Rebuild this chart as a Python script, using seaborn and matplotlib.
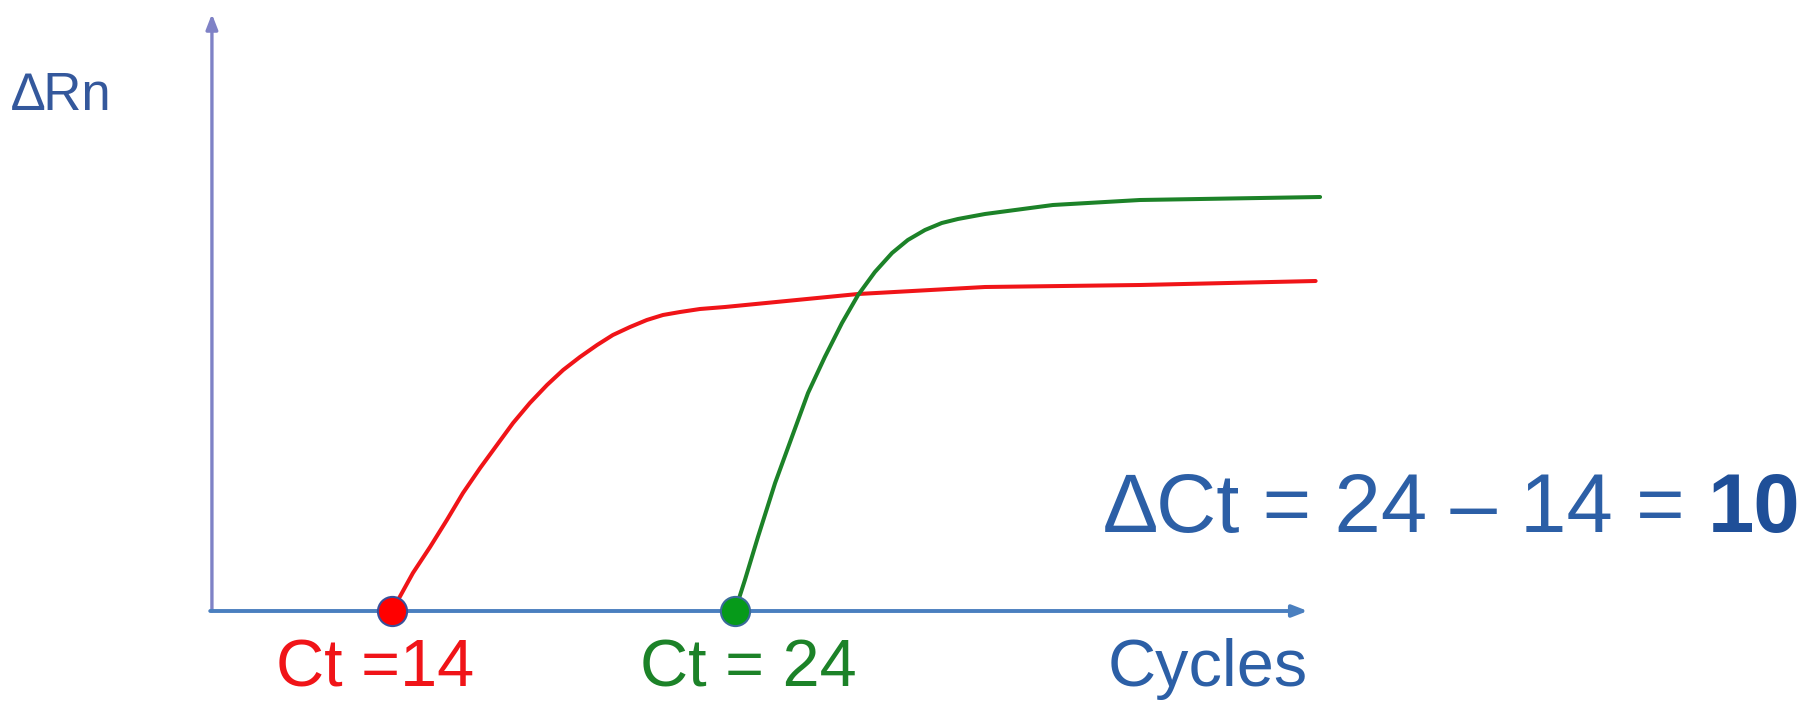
import matplotlib
matplotlib.use("Agg")
import matplotlib.pyplot as plt
import seaborn as sns
import pandas as pd

# Amplification curves (cycle, delta Rn) for the two samples
red_cycles = [14.0, 14.61, 15.11, 15.60, 16.07, 16.57, 17.06, 17.53, 18.02, 18.52,
              18.99, 19.48, 19.98, 20.44, 20.94, 21.43, 21.90, 22.40, 22.98, 23.71,
              27.59, 31.29, 35.81, 40.93]
red_rn = [0.0, 0.38, 0.64, 0.91, 1.18, 1.43, 1.66, 1.88, 2.08, 2.26,
          2.41, 2.54, 2.66, 2.76, 2.84, 2.91, 2.96, 2.99, 3.02, 3.04,
          3.17, 3.24, 3.26, 3.30]

green_cycles = [24.0, 24.29, 24.67, 25.17, 25.66, 26.13, 26.62, 27.12, 27.59, 28.08,
                28.58, 29.04, 29.54, 30.03, 30.50, 31.29, 33.27, 35.81, 41.06]
green_rn = [0.0, 0.31, 0.74, 1.28, 1.74, 2.18, 2.54, 2.88, 3.16, 3.39,
            3.58, 3.71, 3.81, 3.88, 3.92, 3.97, 4.06, 4.11, 4.14]

ct_values = [14, 24]
ct_labels = ["Ct =14", "Ct = 24"]
delta_text = "\u2206Ct = 24 \u2013 14 = "
delta_value = "10"

RED = "#f01418"
GREEN = "#1c8228"
BLUE = "#2c5fa6"

sns.set_style("white")
plt.rcParams["font.family"] = ["Liberation Sans", "DejaVu Sans"]

df = pd.concat([
    pd.DataFrame({"cycle": red_cycles, "rn": red_rn, "sample": "early"}),
    pd.DataFrame({"cycle": green_cycles, "rn": green_rn, "sample": "late"}),
])

fig = plt.figure(figsize=(18.15, 7.01), dpi=100)
ax = fig.add_axes([0, 0, 1, 1])
ax.axis("off")

x0, x_end, y_top = 8.75, 40.7, 5.97

# Axes drawn as arrows
ax.annotate("", xy=(x0, y_top), xytext=(x0, 0),
            arrowprops=dict(arrowstyle="-|>,head_length=0.9,head_width=0.35",
                            color="#7f82c6", lw=2.4, shrinkA=0, shrinkB=0),
            zorder=1)
ax.annotate("", xy=(x_end, 0), xytext=(x0 - 0.05, 0),
            arrowprops=dict(arrowstyle="-|>,head_length=0.9,head_width=0.35",
                            color="#4a7fbf", lw=2.8, shrinkA=0, shrinkB=0),
            zorder=1)

sns.lineplot(data=df, x="cycle", y="rn", hue="sample",
             palette={"early": RED, "late": GREEN}, linewidth=2.9,
             legend=False, ax=ax, sort=False, zorder=2)

# Threshold cycle markers
ax.plot([ct_values[0]], [0], "o", ms=21, mfc="#ff0000", mec="#3a4f9a", mew=1.5, zorder=3)
ax.plot([ct_values[1]], [0], "o", ms=21, mfc="#069a1a", mec="#3a6a9a", mew=1.5, zorder=3)

ax.set_xlim(2.571, 55.49)
ax.set_ylim(-0.90, 6.11)

fs = 48
base = -0.755
ax.text(ct_values[0] - 0.5, base, ct_labels[0], color=RED, fontsize=fs,
        ha="center", va="baseline")
ax.text(ct_values[1] + 0.38, base, ct_labels[1], color=GREEN, fontsize=fs,
        ha="center", va="baseline")
ax.text(x_end, base, "Cycles", color=BLUE, fontsize=fs, ha="right", va="baseline")
ax.text(2.92, 5.01, "\u2206Rn", color="#34589c", fontsize=38, ha="left", va="baseline")

t1 = ax.text(34.79, 0.79, delta_text, color=BLUE, fontsize=60, ha="left", va="baseline")
ax.annotate(delta_value, xy=(1, 0), xycoords=t1, color="#1f4f98", fontsize=60,
            fontweight="bold", ha="left", va="bottom")

fig.savefig("out.png", dpi=100)
